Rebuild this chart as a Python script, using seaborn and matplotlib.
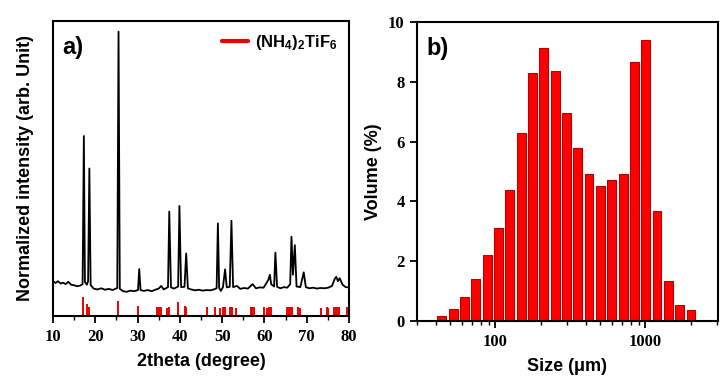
import matplotlib
matplotlib.use("Agg")
import matplotlib.pyplot as plt
import matplotlib.ticker as mticker
import numpy as np
import pandas as pd
import seaborn as sns

# ---- panel a: XRD trace (2theta, normalized intensity) ----
two_theta = [10.0, 10.6, 11.2, 11.8, 12.4, 13.0, 13.6, 14.3, 15.0, 15.7, 16.4, 17.0, 17.3, 17.55, 18.0,
             18.3, 18.6, 18.9, 19.6, 20.5, 21.4, 22.3, 23.2, 24.1, 25.2, 25.5, 25.8, 26.6, 27.4, 28.3,
             29.2, 30.1, 30.4, 30.7, 31.5, 32.4, 33.3, 34.2, 35.0, 35.6, 36.2, 37.2, 37.5, 37.9, 38.6,
             39.6, 39.9, 40.3, 41.1, 41.5, 41.9, 42.7, 43.6, 44.5, 45.4, 46.3, 47.2, 48.0, 48.7, 49.0,
             49.3, 49.7, 50.2, 50.7, 51.1, 51.8, 52.2, 52.6, 53.5, 54.3, 55.2, 56.1, 57.2, 58.0, 58.9,
             59.8, 60.5, 61.0, 61.3, 61.6, 62.3, 62.6, 63.0, 63.8, 64.6, 65.4, 66.1, 66.4, 66.75, 67.2,
             67.6, 68.5, 69.3, 69.8, 70.6, 71.5, 72.4, 73.3, 74.2, 75.1, 76.0, 76.6, 77.0, 77.4, 77.8,
             78.5, 79.2, 80.0]
intensity = [0.118, 0.112, 0.118, 0.110, 0.113, 0.108, 0.116, 0.106, 0.104, 0.101, 0.103, 0.108, 0.61, 0.115, 0.106,
             0.118, 0.50, 0.105, 0.093, 0.090, 0.094, 0.089, 0.092, 0.088, 0.095, 0.964, 0.092, 0.084, 0.082, 0.086,
             0.084, 0.088, 0.159, 0.088, 0.085, 0.088, 0.084, 0.089, 0.093, 0.102, 0.090, 0.098, 0.354, 0.097, 0.093,
             0.100, 0.373, 0.098, 0.099, 0.212, 0.094, 0.090, 0.087, 0.089, 0.086, 0.088, 0.087, 0.090, 0.094, 0.314,
             0.095, 0.085, 0.098, 0.158, 0.097, 0.099, 0.323, 0.098, 0.102, 0.092, 0.095, 0.093, 0.108, 0.094, 0.097,
             0.096, 0.112, 0.125, 0.140, 0.108, 0.100, 0.215, 0.099, 0.094, 0.098, 0.096, 0.108, 0.269, 0.140, 0.240,
             0.100, 0.098, 0.148, 0.098, 0.094, 0.096, 0.093, 0.095, 0.094, 0.096, 0.102, 0.125, 0.133, 0.118, 0.128,
             0.106, 0.098, 0.097]

# reference lines for (NH4)2TiF6
ref_pos = [17.0, 18.15, 18.6, 25.35, 30.0, 34.6, 35.15, 35.5, 37.0, 37.5, 39.5, 41.3, 41.55, 46.5,
           48.2, 49.5, 50.2, 50.65, 51.8, 52.3, 53.4, 56.8, 57.1, 57.5, 60.0, 60.5, 61.1, 61.5,
           65.45, 65.8, 66.2, 66.6, 68.0, 68.45, 73.4, 74.7, 75.1, 76.5, 76.9, 77.3, 77.7, 79.45]
ref_height = [0.065, 0.04, 0.03, 0.052, 0.034, 0.03, 0.03, 0.03, 0.026, 0.03, 0.048, 0.035, 0.03, 0.03,
              0.03, 0.026, 0.03, 0.03, 0.03, 0.03, 0.026, 0.03, 0.03, 0.03, 0.03, 0.026, 0.03, 0.03,
              0.03, 0.03, 0.03, 0.03, 0.03, 0.026, 0.026, 0.03, 0.026, 0.03, 0.03, 0.03, 0.03, 0.03]

# ---- panel b: particle size distribution ----
size_um = [44, 52.4, 62.3, 74.1, 88.2, 105, 125, 149, 177, 210, 250, 298, 354, 421, 501, 597,
           710, 845, 1005, 1196, 1423, 1693, 2014]
volume = [0.17, 0.41, 0.8, 1.4, 2.2, 3.1, 4.37, 6.3, 8.3, 9.13, 8.36, 6.94, 5.78, 4.9, 4.5, 4.72,
          4.93, 8.65, 9.39, 3.68, 1.35, 0.55, 0.38]

sns.set_style("ticks")
plt.rcParams["font.family"] = ["Liberation Sans", "DejaVu Sans"]
plt.rcParams["mathtext.fontset"] = "custom"
plt.rcParams["mathtext.bf"] = "Liberation Sans:bold"
plt.rcParams["mathtext.rm"] = "Liberation Sans:bold"
for key in ["text.color", "axes.labelcolor", "xtick.color", "ytick.color", "axes.edgecolor"]:
    plt.rcParams[key] = "black"

tick_font = dict(family="Liberation Serif", weight="bold", size=12)
label_font = dict(family="Liberation Sans", weight="bold", size=13)

fig = plt.figure(figsize=(7.27, 3.85), dpi=100)
ax1 = fig.add_axes([0.0729, 0.1792, 0.4071, 0.7663])
ax2 = fig.add_axes([0.5736, 0.1662, 0.414, 0.7767])

# panel a
sns.lineplot(x=two_theta, y=intensity, ax=ax1, color="black", linewidth=1.3, sort=False)
ax1.vlines(ref_pos, 0, ref_height, color="#ee0000", linewidth=1.4)
ax1.plot([], [], color="#ee0000", linewidth=3, label=r"$\mathbf{(NH_4)_2TiF_6}$")
ax1.set_xlim(10, 80)
ax1.set_ylim(0, 1)
ax1.set_yticks([])
ax1.xaxis.set_major_locator(mticker.MultipleLocator(10))
ax1.xaxis.set_minor_locator(mticker.MultipleLocator(5))
ax1.set_xlabel("2theta (degree)", labelpad=6, **label_font)
ax1.set_ylabel("Normalized intensity (arb. Unit)", labelpad=14, **label_font)
ax1.legend(loc="upper right", frameon=False, fontsize=12, handlelength=1.6,
           handletextpad=0.4, borderaxespad=0.3)
ax1.text(0.03, 0.95, "a)", transform=ax1.transAxes, ha="left", va="top",
         fontsize=17, fontweight="bold")

# panel b
sns.barplot(x=size_um, y=volume, ax=ax2, native_scale=True, log_scale=(True, False),
            color="#ff0000", edgecolor="#b80000", linewidth=0.8, width=0.8, saturation=1)
ax2.set_xlim(30, 3050)
ax2.set_ylim(0, 10)
ax2.set_yticks([0, 2, 4, 6, 8, 10])
ax2.xaxis.set_major_locator(mticker.LogLocator(base=10, numticks=10))
ax2.xaxis.set_minor_locator(mticker.LogLocator(base=10, subs=np.arange(2, 10), numticks=20))
ax2.xaxis.set_major_formatter(mticker.FuncFormatter(lambda v, p: "%d" % v))
ax2.xaxis.set_minor_formatter(mticker.NullFormatter())
ax2.set_xlabel("Size (\u03bcm)", labelpad=6, **label_font)
ax2.set_ylabel("Volume (%)", labelpad=4, **label_font)
ax2.text(0.03, 0.95, "b)", transform=ax2.transAxes, ha="left", va="top",
         fontsize=17, fontweight="bold")

for ax in (ax1, ax2):
    for s in ax.spines.values():
        s.set_visible(True)
        s.set_linewidth(1.5)
        s.set_color("black")
    ax.tick_params(axis="both", which="major", direction="out", length=5, width=1.3, pad=4)
    ax.tick_params(axis="both", which="minor", direction="out", length=3, width=1.0)
    for lab in ax.get_xticklabels() + ax.get_yticklabels():
        lab.set_fontfamily(tick_font["family"])
        lab.set_fontweight(tick_font["weight"])
        lab.set_fontsize(tick_font["size"])

fig.savefig("out.png", dpi=100)
